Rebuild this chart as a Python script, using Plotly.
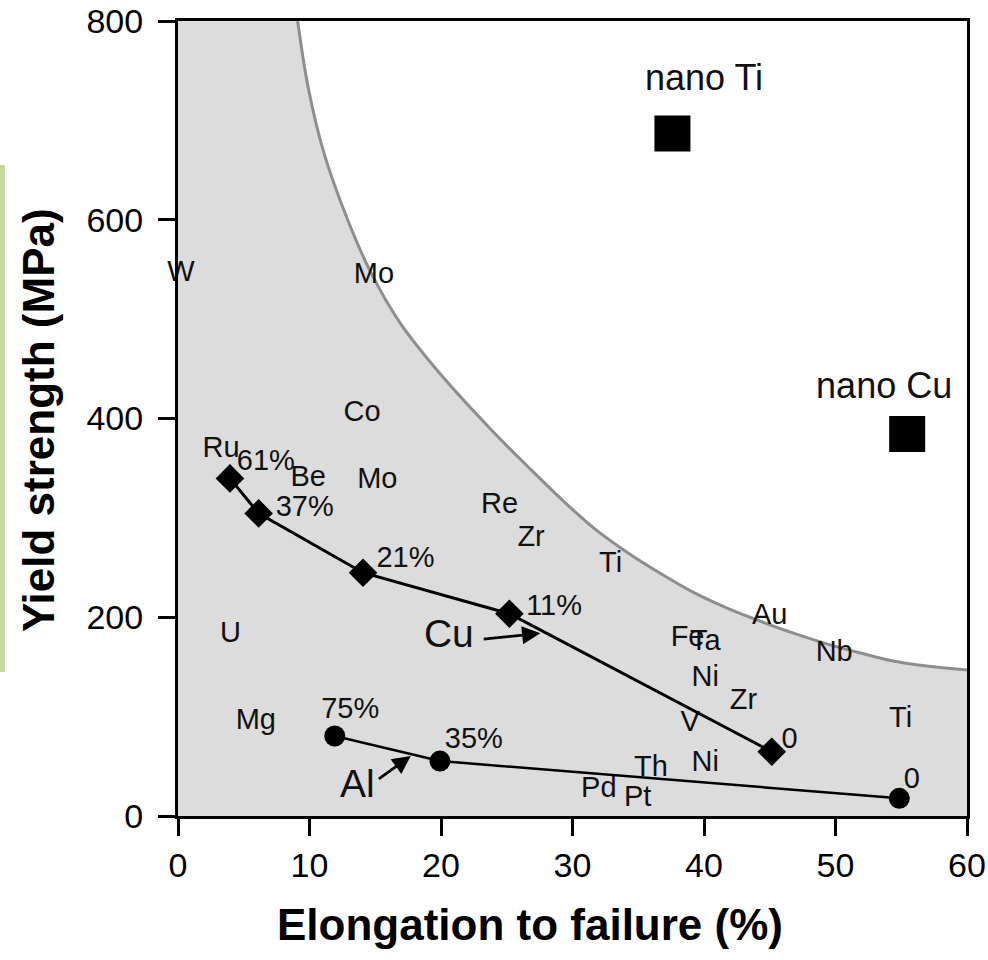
import plotly.graph_objects as go

FONT = "Liberation Sans, Arial, Helvetica, sans-serif"

# ---- data ----
# boundary of the shaded region (elongation %, yield MPa)
bound_x = [9.1, 9.9, 11.1, 12.9, 14.7, 16.9, 20.0, 23.8, 26.8, 29.3, 31.6, 34.2, 36.7, 39.2, 41.8, 44.3, 46.8, 49.4, 51.9, 54.4, 56.9, 60.0]
bound_y = [800, 733, 667, 600, 546, 496, 444, 389, 349, 317, 290, 265, 244, 225, 209, 196, 184, 173, 164, 156, 151, 147]

# Cu series (diamonds)
cu_x = [3.95, 6.13, 14.07, 25.2, 45.15]
cu_y = [339.7, 304.5, 244.8, 203.5, 64.7]
cu_lab = ["61%", "37%", "21%", "11%", "0"]
cu_lab_x = [6.68, 9.64, 17.3, 28.6, 46.5]
cu_lab_y = [355, 309.5, 257.5, 210, 75.8]

# Al series (circles)
al_x = [11.92, 19.92, 54.85]
al_y = [80.5, 55.3, 17.8]
al_lab = ["75%", "35%", "0"]
al_lab_x = [13.1, 22.5, 55.8]
al_lab_y = [106, 75.8, 35.5]

# nanocrystalline points (squares)
nano_x = [37.6, 55.45]
nano_y = [686.8, 384.3]
nano_lab = ["nano Ti", "nano Cu"]
nano_lab_x = [40.0, 53.7]
nano_lab_y = [739.6, 430]

# element labels
elem_names = ["W", "Mo", "Co", "Ru", "Be", "Mo", "Re", "Zr", "Ti", "Au", "Fe", "Ta", "Nb",
              "Ni", "Zr", "V", "Ni", "Th", "Pd", "Pt", "Ti", "U", "Mg"]
elem_x = [0.23, 14.9, 14.0, 3.27, 9.9, 15.16, 24.45, 26.85, 32.9, 45.0, 38.75, 40.1, 49.9,
          40.1, 43.0, 38.95, 40.1, 35.97, 32.0, 34.95, 54.95, 4.0, 5.92]
elem_y = [546, 543.6, 405, 369, 339, 337, 312, 278.7, 252.5, 200.5, 178.6, 174.3, 163,
          137.8, 115, 93.2, 53, 47.3, 26, 17, 96.6, 182, 95]

# series labels with arrows: label pos, arrow tail, arrow head
series_lab = ["Cu", "Al"]
series_lab_x = [20.6, 13.64]
series_lab_y = [180, 28.9]
arrow_tail_x = [23.13, 15.16]
arrow_tail_y = [177.8, 36.2]
arrow_head_x = [27.55, 17.7]
arrow_head_y = [183.8, 60.4]

x_ticks = [0, 10, 20, 30, 40, 50, 60]
y_ticks = [0, 200, 400, 600, 800]

fig = go.Figure()

# shaded region
poly_x = [0, 0] + bound_x + [60]
poly_y = [0, 800] + bound_y + [0]
fig.add_trace(go.Scatter(x=poly_x, y=poly_y, mode="lines", fill="toself",
                         fillcolor="#dcdcdc", line=dict(width=0), hoverinfo="skip",
                         showlegend=False))
fig.add_trace(go.Scatter(x=bound_x, y=bound_y, mode="lines",
                         line=dict(color="#8e8e8e", width=3, shape="spline", smoothing=1.0),
                         showlegend=False))

TXT = dict(family=FONT, size=29, color="#111111")

# element labels
fig.add_trace(go.Scatter(x=elem_x, y=elem_y, mode="text", text=elem_names,
                         textposition="middle center", textfont=TXT,
                         cliponaxis=False, showlegend=False))

# Cu series
fig.add_trace(go.Scatter(x=cu_x, y=cu_y, mode="lines+markers",
                         line=dict(color="black", width=3),
                         marker=dict(symbol="diamond", size=22, color="black"),
                         showlegend=False))
fig.add_trace(go.Scatter(x=cu_lab_x, y=cu_lab_y, mode="text", text=cu_lab,
                         textposition="middle center", textfont=TXT,
                         cliponaxis=False, showlegend=False))

# Al series
fig.add_trace(go.Scatter(x=al_x, y=al_y, mode="lines+markers",
                         line=dict(color="black", width=2.5),
                         marker=dict(symbol="circle", size=21, color="black"),
                         showlegend=False))
fig.add_trace(go.Scatter(x=al_lab_x, y=al_lab_y, mode="text", text=al_lab,
                         textposition="middle center", textfont=TXT,
                         cliponaxis=False, showlegend=False))

# nano points
fig.add_trace(go.Scatter(x=nano_x, y=nano_y, mode="markers",
                         marker=dict(symbol="square", size=36, color="black"),
                         showlegend=False))
fig.add_trace(go.Scatter(x=nano_lab_x, y=nano_lab_y, mode="text", text=nano_lab,
                         textposition="middle center",
                         textfont=dict(family=FONT, size=36, color="#111111"),
                         cliponaxis=False, showlegend=False))

# series labels
fig.add_trace(go.Scatter(x=series_lab_x, y=series_lab_y, mode="text", text=series_lab,
                         textposition="middle center",
                         textfont=dict(family=FONT, size=39, color="#111111"),
                         cliponaxis=False, showlegend=False))

annotations = []
for tx, ty, hx, hy in zip(arrow_tail_x, arrow_tail_y, arrow_head_x, arrow_head_y):
    annotations.append(dict(x=hx, y=hy, ax=tx, ay=ty, xref="x", yref="y",
                            axref="x", ayref="y", text="", showarrow=True,
                            arrowhead=2, arrowsize=1.3, arrowwidth=2.8,
                            arrowcolor="black", standoff=0, startstandoff=0))

# axis titles
annotations.append(dict(text="<b>Elongation to failure (%)</b>", x=0.446, y=-0.137,
                        xref="paper", yref="paper", showarrow=False,
                        xanchor="center", yanchor="middle",
                        font=dict(family=FONT, size=44, color="black")))
annotations.append(dict(text="<b>Yield strength (MPa)</b>", x=-0.1774, y=0.498,
                        xref="paper", yref="paper", showarrow=False, textangle=-90,
                        xanchor="center", yanchor="middle",
                        font=dict(family=FONT, size=44, color="black")))

shapes = [dict(type="rect", xref="paper", yref="paper",
               x0=-0.2256, x1=-0.2193, y0=(816 - 672) / 795, y1=(816 - 165) / 795,
               fillcolor="#c6d8a2", line=dict(width=0), layer="below")]

axis_common = dict(showgrid=False, zeroline=False, showline=True, linecolor="black",
                   linewidth=3, mirror=True, ticks="outside", ticklen=17, tickwidth=3,
                   tickcolor="black", automargin=False,
                   tickfont=dict(family=FONT, size=34, color="black"))

fig.update_layout(
    width=988, height=960,
    margin=dict(l=178, r=21, t=21, b=144, autoexpand=False),
    paper_bgcolor="white", plot_bgcolor="white",
    showlegend=False,
    annotations=annotations,
    shapes=shapes,
    xaxis=dict(range=[0, 60], tickvals=x_ticks, ticktext=[str(v) for v in x_ticks],
               ticklabelstandoff=0, **axis_common),
    yaxis=dict(range=[0, 800], tickvals=y_ticks, ticktext=[str(v) for v in y_ticks],
               ticklabelstandoff=8, **axis_common),
)

fig.write_html("out.html")
